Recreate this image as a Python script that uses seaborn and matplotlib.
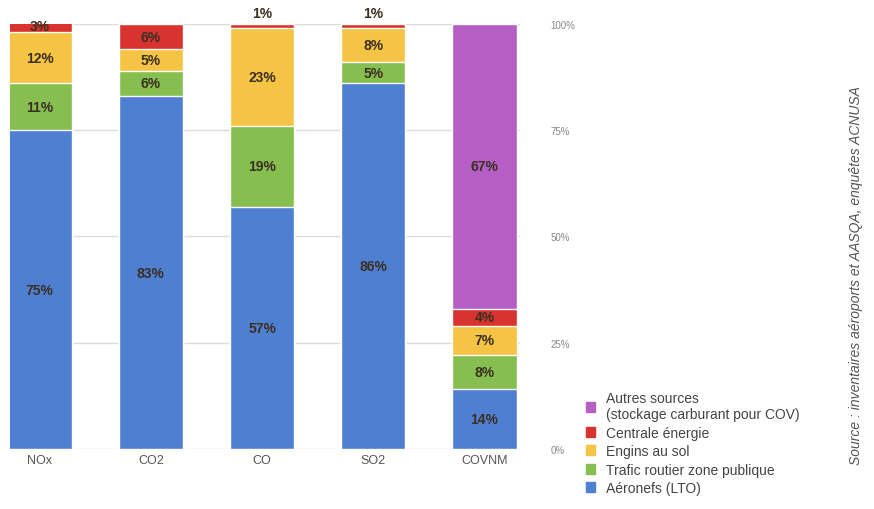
import numpy as np
import pandas as pd
import matplotlib
matplotlib.use("Agg")
import matplotlib.pyplot as plt
import seaborn as sns
from matplotlib.patches import Patch

sns.set_style("white")
plt.rcParams["font.family"] = ["Liberation Sans", "DejaVu Sans"]

polluants = ["NOx", "CO2", "CO", "SO2", "COVNM"]
sources = ["Aéronefs (LTO)", "Trafic routier zone publique", "Engins au sol",
           "Centrale énergie", "Autres sources\n(stockage carburant pour COV)"]
aeronefs = [75, 83, 57, 86, 14]
trafic = [11, 6, 19, 5, 8]
engins = [12, 5, 23, 8, 7]
centrale = [3, 6, 1, 1, 4]
autres = [0, 0, 0, 0, 67]
couleurs = ["#4f7fd0", "#86bf4f", "#f6c444", "#d8332f", "#b55fc4"]
ticks_pct = [0, 25, 50, 75, 100]

valeurs = np.array([aeronefs, trafic, engins, centrale, autres], dtype=float)
cumul = valeurs.cumsum(axis=0)

fig = plt.figure(figsize=(8.74, 5.1), dpi=100)
ax = fig.add_axes([0.011, 0.118, 0.584, 0.833])

for t in ticks_pct:
    ax.axhline(t, color="#dcdcdc", lw=1.0, zorder=0)

# draw the tallest cumulative layer first, each one on top of the previous
for i in range(len(sources) - 1, -1, -1):
    df = pd.DataFrame({"polluant": polluants, "haut": cumul[i]})
    sns.barplot(data=df, x="polluant", y="haut", color=couleurs[i],
                width=0.58, saturation=1, ax=ax, zorder=2)

for i in range(len(sources)):
    for j in range(len(polluants)):
        v = valeurs[i, j]
        if v <= 0:
            continue
        y = cumul[i, j] - v / 2
        if v < 2:
            y = cumul[i, j] + 2.5
        ax.text(j, y, f"{int(v)}%", ha="center", va="center",
                fontsize=10, fontweight="bold", color="#3b2f22", zorder=5)

ax.set_xlim(-0.27, 4.32)
ax.set_ylim(0, 100)
ax.set_xlabel("")
ax.set_ylabel("")
ax.set_yticks(ticks_pct)
ax.set_yticklabels([f"{t}%" for t in ticks_pct], fontsize=7, color="#888888")
ax.yaxis.tick_right()
ax.tick_params(axis="y", length=0, pad=22)
ax.tick_params(axis="x", length=0, labelsize=9, colors="#555555", pad=4)
for s in ax.spines.values():
    s.set_visible(False)

handles = [Patch(color=couleurs[i], label=sources[i]) for i in range(len(sources) - 1, -1, -1)]
fig.legend(handles=handles, loc="upper left", bbox_to_anchor=(0.662, 0.245),
           frameon=False, fontsize=10, handlelength=0.7, handleheight=0.7,
           handletextpad=0.8, labelspacing=0.32, labelcolor="#444444",
           borderpad=0)

fig.text(0.979, 0.46, "Source : inventaires aéroports et AASQA, enquêtes ACNUSA",
         rotation=90, ha="center", va="center", fontsize=10, color="#555555",
         style="italic")

fig.savefig("out.png", dpi=100)
